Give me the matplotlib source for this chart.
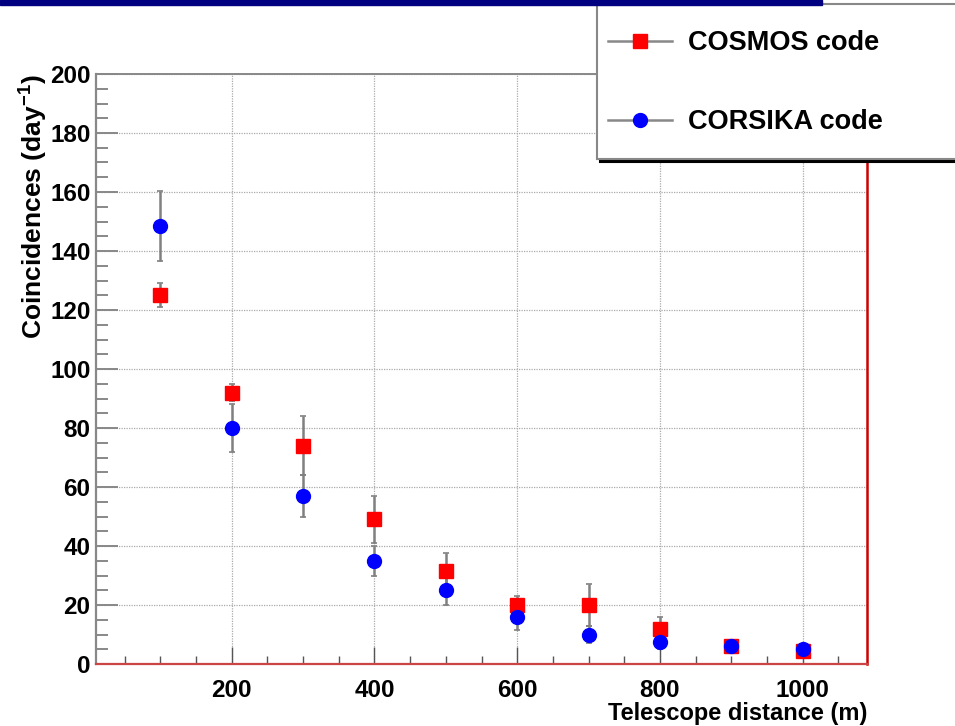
import numpy as np
import matplotlib.pyplot as plt
from matplotlib.lines import Line2D
from matplotlib.patches import Rectangle
from matplotlib.legend_handler import HandlerLine2D

plt.rcParams['font.family'] = ['Liberation Sans', 'DejaVu Sans']
plt.rcParams['font.weight'] = 'bold'
plt.rcParams['mathtext.fontset'] = 'custom'
plt.rcParams['mathtext.rm'] = 'Liberation Sans:bold'
plt.rcParams['mathtext.bf'] = 'Liberation Sans:bold'
plt.rcParams['mathtext.default'] = 'bf'

# telescope distance (m)
dist = [100, 200, 300, 400, 500, 600, 700, 800, 900, 1000]
# COSMOS code
cosmos = [125, 92, 74, 49, 31.5, 20, 20, 12, 6, 4.5]
cosmos_err = [4, 3, 10, 8, 6, 3, 7, 4, 1.5, 1.5]
# CORSIKA code
corsika = [148.5, 80, 57, 35, 25, 16, 10, 7.5, 6, 5]
corsika_err = [12, 8, 7, 5, 5, 4.5, 3, 2.5, 1.5, 1.5]

xticks = [200, 400, 600, 800, 1000]
yticks = [0, 20, 40, 60, 80, 100, 120, 140, 160, 180, 200]

fig = plt.figure(figsize=(9.55, 7.26), dpi=100)
ax = fig.add_axes([96/955, 62/726, 771/955, 590/726])

ax.set_xlim(10, 1090)
ax.set_ylim(0, 200)

for y, e, mk, col, ms in [(cosmos, cosmos_err, 's', '#ff0000', 9.5),
                          (corsika, corsika_err, 'o', '#0000ff', 10)]:
    eb = ax.errorbar(dist, y, yerr=e, fmt=mk, color=col, ms=ms, mec=col,
                     ecolor='#808080', elinewidth=1.8, capsize=2, capthick=1.2,
                     zorder=3)
    for c in eb[1]:
        c.set_color('#444444')

ax.set_xticks(xticks)
ax.set_yticks(yticks)
ax.set_xticks(np.arange(50, 1090, 50), minor=True)
ax.set_yticks(np.arange(0, 201, 5), minor=True)
ax.grid(True, which='major', color='#aaaaaa', ls=(0, (1, 1)), lw=0.9)
ax.set_axisbelow(True)

ax.tick_params(axis='y', which='major', direction='in', length=16, width=1.4,
               color='#888888', labelsize=17.5, pad=4)
ax.tick_params(axis='y', which='minor', direction='in', length=8.5, width=1.4,
               color='#888888')
ax.tick_params(axis='x', which='major', direction='in', length=12, width=1,
               color='#555555', labelsize=17.5, pad=11)
ax.tick_params(axis='x', which='minor', direction='in', length=6, width=1,
               color='#555555')

ax.spines['left'].set_color('#888888')
ax.spines['left'].set_linewidth(1.6)
ax.spines['top'].set_color('#888888')
ax.spines['top'].set_linewidth(1.4)
ax.spines['bottom'].set_color('#cc4444')
ax.spines['bottom'].set_linewidth(1.6)
ax.spines['right'].set_color('#cc0000')
ax.spines['right'].set_linewidth(1.8)

ax.set_xlabel('Telescope distance (m)', fontsize=17, fontweight='bold',
              loc='right', labelpad=0)
ax.set_ylabel('Coincidences (day$^{-1}$)', fontsize=19, fontweight='bold',
              loc='top', labelpad=0)


# move the legend symbol down so it sits level with the text
def lower_handle(leg_line, orig):
    leg_line.update_from(orig)
    leg_line.set_ydata(np.asarray(leg_line.get_ydata()) - 6.0)


handles = [Line2D([], [], color='#888888', lw=1.8, marker='s', ms=9.5,
                  mfc='#ff0000', mec='#ff0000'),
           Line2D([], [], color='#888888', lw=1.8, marker='o', ms=10,
                  mfc='#0000ff', mec='#0000ff')]
leg = fig.legend(handles, ['COSMOS code', 'CORSIKA code'], loc='upper left',
                 bbox_to_anchor=(597/955, 0.0, 0.5, 1 - 4/726), mode='expand',
                 borderaxespad=0, prop={'size': 19.5, 'weight': 'bold'},
                 handlelength=2.35, handleheight=2.66, handletextpad=0.6,
                 labelspacing=0.95, borderpad=0.42, fancybox=False,
                 framealpha=1, edgecolor='#888888',
                 shadow={'color': 'black', 'alpha': 1.0},
                 handler_map={Line2D: HandlerLine2D(update_func=lower_handle)})
leg.get_frame().set_linewidth(1.5)

fig.add_artist(Rectangle((0, 1 - 5/726), 822/955, 5/726, transform=fig.transFigure,
                         color='#000080', zorder=10))

fig.savefig('out.png', dpi=100)
